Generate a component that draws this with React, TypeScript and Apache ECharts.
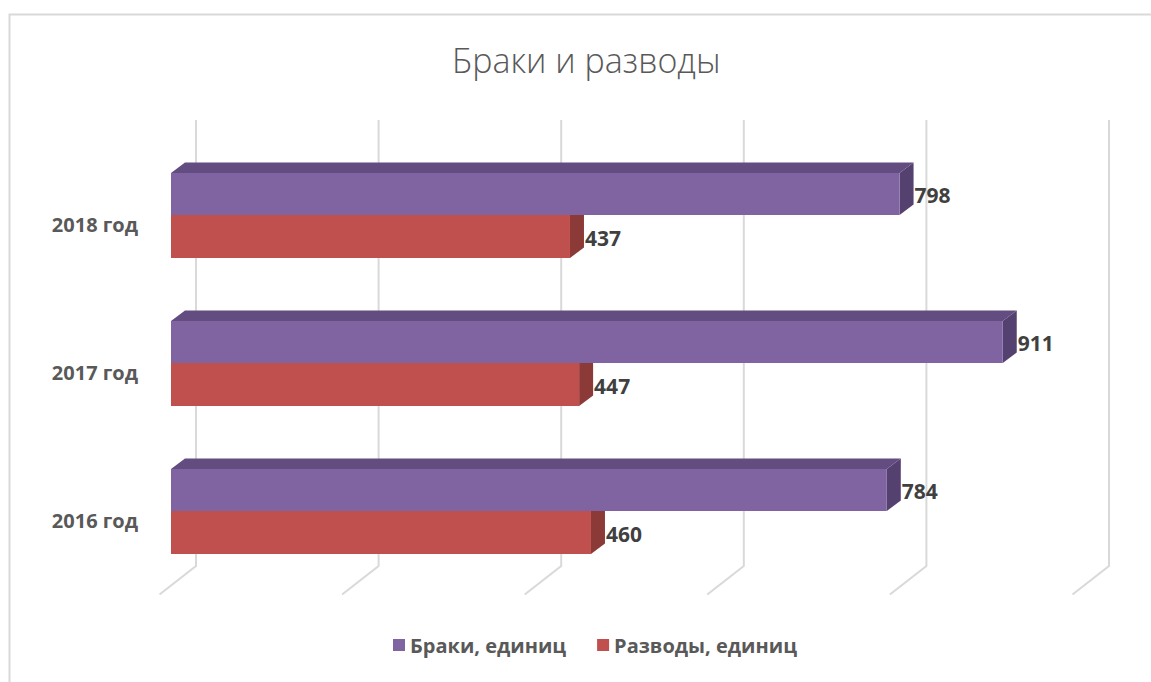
import React, { useEffect, useRef } from "react";
import * as echarts from "echarts";

const categories = ["2016 год", "2017 год", "2018 год"];
const marriages = [784, 911, 798];
const divorces = [460, 447, 437];
const gridTicks = [0, 200, 400, 600, 800, 1000];
const seriesNames = ["Браки, единиц", "Разводы, единиц"];

const DX = 14;
const DY = -10.5;
const FONT = "'Open Sans', Lato, sans-serif";

export default function App() {
  const ref = useRef<HTMLDivElement>(null);
  useEffect(() => {
    if (!ref.current) return;
    const chart = echarts.init(ref.current, null, { renderer: "svg" });

    const barRender = (kind: number) => (params: any, api: any) => {
      const cat = api.value(1);
      const v = api.value(0);
      const p0 = api.coord([0, cat]);
      const p1 = api.coord([v, cat]);
      const x0 = p0[0];
      const x1 = p1[0];
      const cy = p0[1];
      const top = kind === 0 ? cy - 42 : cy;
      const bottom = kind === 0 ? cy : cy + 43;
      const front = kind === 0 ? "#8064A2" : "#C0504D";
      const side = kind === 0 ? "#55416F" : "#8C3A37";
      const topC = "#624C80";
      const children: any[] = [];
      children.push({
        type: "polygon",
        shape: { points: [[x1, top], [x1 + DX, top + DY], [x1 + DX, bottom + DY], [x1, bottom]] },
        style: { fill: side },
      });
      if (kind === 0) {
        children.push({
          type: "polygon",
          shape: { points: [[x0, top], [x0 + DX, top + DY], [x1 + DX, top + DY], [x1, top]] },
          style: { fill: topC },
        });
      }
      children.push({
        type: "rect",
        shape: { x: x0, y: top, width: x1 - x0, height: bottom - top },
        style: { fill: front },
      });
      children.push({
        type: "text",
        x: x1 + DX + 1,
        y: (top + bottom) / 2 + 1,
        style: {
          text: String(v),
          fill: "#404040",
          fontFamily: FONT,
          fontWeight: "bold",
          fontSize: 21,
          align: "left",
          verticalAlign: "middle",
        },
      });
      return { type: "group", children };
    };

    const option: any = {
      animation: false,
      backgroundColor: "#ffffff",
      title: {
        text: "Браки и разводы",
        left: 447,
        top: 38,
        textStyle: { fontFamily: FONT, fontWeight: 300, fontSize: 34, color: "#595959" },
      },
      graphic: [
        {
          type: "rect",
          shape: { x: 9.5, y: 14.5, width: 1200, height: 700 },
          style: { fill: "none", stroke: "#d9d9d9", lineWidth: 2 },
          silent: true,
          z: -10,
        },
      ],
      legend: {
        bottom: 22,
        left: 388,
        icon: "rect",
        itemWidth: 12,
        itemHeight: 12,
        itemGap: 31,
        data: seriesNames,
        textStyle: { fontFamily: FONT, fontWeight: "bold", fontSize: 20, color: "#595959" },
      },
      grid: { left: 171, top: 141, width: 913, height: 444, containLabel: false },
      xAxis: {
        type: "value",
        min: 0,
        max: 1000,
        interval: 200,
        show: false,
      },
      yAxis: {
        type: "category",
        data: categories,
        axisLine: { show: false },
        axisTick: { show: false },
        splitLine: { show: false },
        axisLabel: {
          margin: 33,
          verticalAlign: "top",
          fontFamily: FONT,
          fontWeight: "bold",
          fontSize: 20,
          lineHeight: 19,
          color: "#595959",
        },
      },
      series: [
        {
          type: "custom",
          name: "grid",
          silent: true,
          z: 0,
          data: gridTicks.map((t) => [t, 0]),
          renderItem: (params: any, api: any) => {
            const cs = params.coordSys;
            const x = api.coord([api.value(0), 0])[0];
            const topY = cs.y - 21;
            const backY = cs.y + cs.height - 19;
            const frontY = backY + 28.5;
            return {
              type: "group",
              children: [
                {
                  type: "polyline",
                  shape: { points: [[x + 25, topY], [x + 25, backY], [x - 11.5, frontY]] },
                  style: { stroke: "#d9d9d9", lineWidth: 2, fill: "none" },
                },
              ],
            };
          },
        },
        {
          type: "custom",
          name: seriesNames[1],
          z: 2,
          itemStyle: { color: "#C0504D" },
          data: divorces.map((v, i) => [v, i]),
          renderItem: barRender(1),
        },
        {
          type: "custom",
          name: seriesNames[0],
          z: 3,
          itemStyle: { color: "#8064A2" },
          data: marriages.map((v, i) => [v, i]),
          renderItem: barRender(0),
        },
      ],
    };
    chart.setOption(option);
    return () => chart.dispose();
  }, []);
  return (
    <div
      ref={ref}
      style={{ position: "absolute", left: 0, top: 0, width: 1151, height: 682 }}
    />
  );
}
